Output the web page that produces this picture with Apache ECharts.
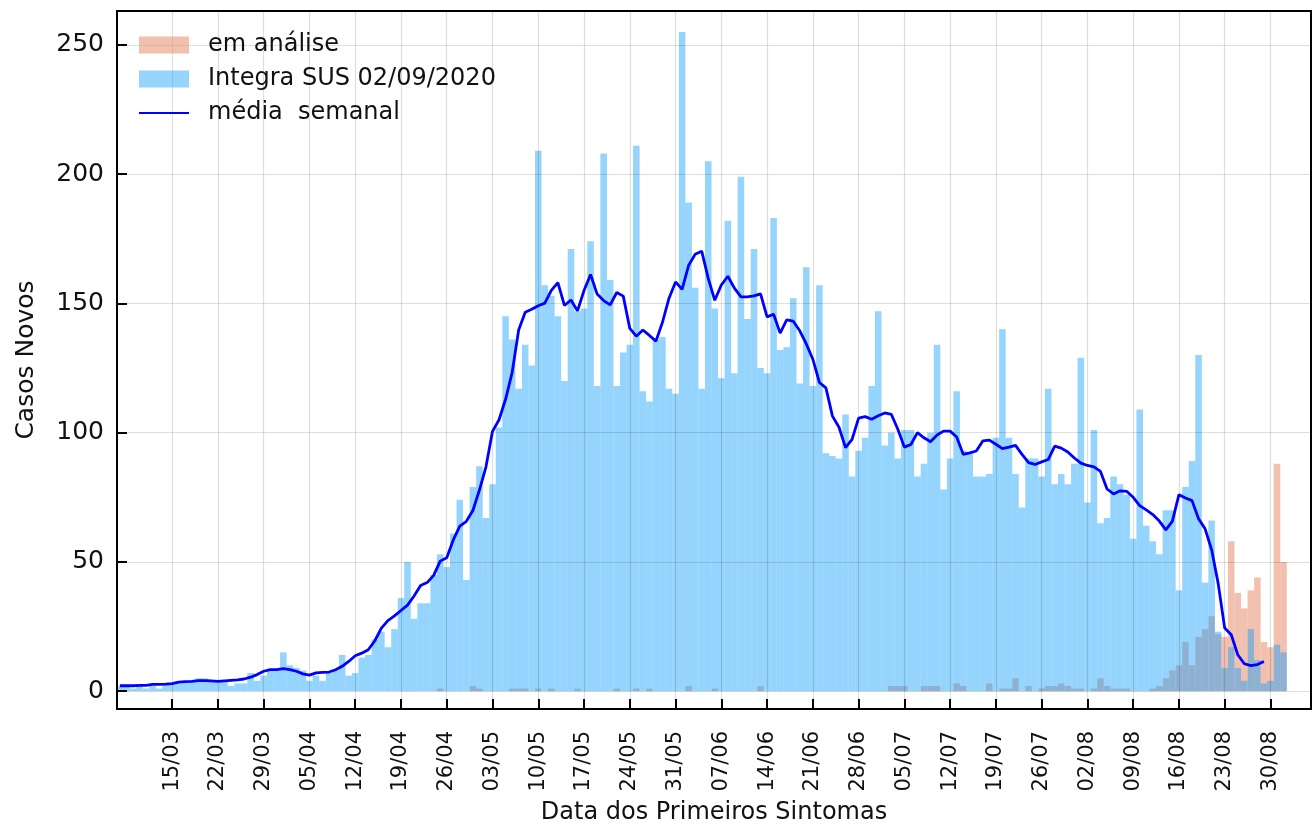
<!DOCTYPE html>
<html>
<head>
<meta charset="utf-8">
<script src="https://cdn.jsdelivr.net/npm/echarts@6/dist/echarts.min.js"></script>
<style>
  html, body { margin: 0; padding: 0; background: #fff; }
  #grafico { width: 1316px; height: 830px; }
</style>
</head>
<body>
<div id="grafico"></div>
<script>
// eixo x: dias contados a partir de 15/03 (o primeiro dia, 07/03, é -8)
const primeiroDia = -8;

const rotulosX = ["15/03", "22/03", "29/03", "05/04", "12/04", "19/04", "26/04",
  "03/05", "10/05", "17/05", "24/05", "31/05", "07/06", "14/06", "21/06", "28/06",
  "05/07", "12/07", "19/07", "26/07", "02/08", "09/08", "16/08", "23/08", "30/08"];
const valoresY = [0, 50, 100, 150, 200, 250];

// casos por dia (07/03 a 01/09)
const integraSUS = [
  2, 2, 1, 2, 1, 2, 1, 3, 3, 3,
  4, 4, 5, 5, 4, 4, 4, 2, 3, 3,
  7, 4, 6, 8, 8, 15, 10, 9, 8, 4,
  6, 4, 7, 8, 14, 6, 7, 13, 14, 20,
  23, 17, 24, 36, 50, 28, 34, 34, 45, 53,
  48, 61, 74, 43, 79, 87, 67, 80, 102, 145,
  136, 117, 134, 126, 209, 157, 153, 145, 120, 171,
  147, 148, 174, 118, 208, 159, 118, 131, 134, 211,
  116, 112, 136, 137, 117, 115, 255, 189, 156, 117,
  205, 148, 121, 182, 123, 199, 144, 171, 125, 123,
  183, 132, 133, 152, 119, 164, 118, 157, 92, 91,
  90, 107, 83, 93, 98, 118, 147, 95, 100, 90,
  101, 101, 83, 88, 100, 134, 78, 90, 116, 93,
  92, 83, 83, 84, 98, 140, 98, 84, 71, 90,
  90, 83, 117, 80, 84, 80, 88, 129, 73, 101,
  65, 67, 83, 80, 76, 59, 109, 64, 58, 53,
  70, 70, 39, 79, 89, 130, 42, 66, 23, 9,
  17, 9, 4, 24, 12, 3, 4, 18, 15
];

const emAnalise = [
  0, 0, 0, 0, 0, 0, 0, 0, 0, 0,
  0, 0, 0, 0, 0, 0, 0, 0, 0, 0,
  0, 0, 0, 0, 0, 0, 0, 0, 0, 0,
  0, 0, 0, 0, 0, 0, 0, 0, 0, 0,
  0, 0, 0, 0, 0, 0, 0, 0, 0, 1,
  0, 0, 0, 0, 2, 1, 0, 0, 0, 0,
  1, 1, 1, 0, 1, 0, 1, 0, 0, 0,
  1, 0, 0, 0, 0, 0, 1, 0, 0, 1,
  0, 1, 0, 0, 0, 0, 0, 2, 0, 0,
  0, 1, 0, 0, 0, 0, 0, 0, 2, 0,
  0, 0, 0, 0, 0, 0, 0, 0, 0, 0,
  0, 0, 0, 0, 0, 0, 0, 0, 2, 2,
  2, 0, 0, 2, 2, 2, 0, 0, 3, 2,
  0, 0, 0, 3, 0, 1, 1, 5, 0, 2,
  0, 1, 2, 2, 3, 2, 1, 1, 0, 1,
  5, 2, 1, 1, 1, 0, 0, 0, 1, 2,
  5, 8, 10, 19, 10, 21, 24, 29, 22, 21,
  58, 38, 32, 39, 44, 19, 17, 88, 50
];

// média semanal (07/03 a 29/08)
const mediaSemanal = [
  2.1, 2.1, 2.1, 2.2, 2.2, 2.6, 2.6, 2.7, 2.9, 3.5,
  3.7, 3.8, 4.1, 4.1, 4.0, 3.8, 4.0, 4.2, 4.4, 4.7,
  5.4, 6.4, 7.7, 8.3, 8.3, 8.7, 8.3, 7.7, 6.7, 6.2,
  7.1, 7.3, 7.4, 8.3, 9.6, 11.5, 13.7, 14.7, 16.0, 19.5,
  24.4, 27.3, 29.1, 31.2, 33.3, 36.8, 40.9, 42.0, 44.8, 50.3,
  51.6, 58.5, 63.8, 65.7, 69.9, 77.8, 86.8, 100.5, 105.0, 112.9,
  123.2, 139.7, 146.6, 147.7, 149.1, 150.1, 155.0, 158.0, 149.2, 151.3,
  147.1, 155.0, 161.2, 153.6, 151.1, 149.4, 154.2, 152.8, 140.3, 137.3,
  139.7, 137.6, 135.4, 142.7, 152.0, 158.3, 155.4, 164.7, 169.0, 170.2,
  159.7, 151.2, 157.1, 160.5, 155.9, 152.5, 152.5, 152.9, 153.7, 144.8,
  145.8, 138.5, 143.6, 143.1, 139.4, 134.3, 128.4, 119.4, 117.3, 106.4,
  102.1, 94.2, 97.4, 105.6, 106.2, 105.2, 106.5, 107.6, 107.1, 101.3,
  94.4, 95.4, 100.0, 98.0, 96.5, 99.1, 100.6, 100.6, 98.3, 91.6,
  92.2, 92.9, 96.8, 97.1, 95.5, 93.8, 94.4, 95.1, 91.6, 88.4,
  87.7, 88.7, 89.6, 94.8, 94.0, 92.5, 90.2, 88.2, 87.3, 86.8,
  85.0, 78.2, 76.3, 77.5, 77.3, 75.0, 71.8, 70.1, 68.3, 65.8,
  62.4, 65.8, 76.0, 74.7, 73.7, 66.7, 62.8, 54.7, 41.7, 24.4,
  21.8, 14.1, 10.6, 9.9, 10.3, 11.5
];

const grafico = echarts.init(document.getElementById("grafico"));

function paraPontos(valores) {
  return valores.map((v, i) => [primeiroDia + i, v]);
}

const posicoesX = rotulosX.map((r, i) => i * 7);

grafico.setOption({
  animation: false,
  textStyle: { fontFamily: "DejaVu Sans" },
  grid: {
    left: 117, right: 5, top: 11, bottom: 117,
    show: true, borderColor: "#000", borderWidth: 2
  },
  legend: {
    orient: "vertical",
    left: 138,
    top: 33,
    padding: 0,
    itemWidth: 50,
    itemHeight: 17,
    itemGap: 10,
    textStyle: { fontSize: 24, color: "#111", padding: [0, 0, 0, 14] },
    data: [
      { name: "em análise", icon: "rect" },
      { name: "Integra SUS 02/09/2020", icon: "rect" },
      { name: "média  semanal", itemStyle: { opacity: 0 } }
    ]
  },
  xAxis: {
    type: "value",
    min: -8.44,
    max: 174.2,
    z: 3,
    name: "Data dos Primeiros Sintomas",
    nameLocation: "middle",
    nameGap: 92,
    nameTextStyle: { fontSize: 24, color: "#111" },
    axisLine: { show: true, onZero: false, lineStyle: { color: "#000", width: 2 } },
    axisTick: {
      show: true, inside: true, length: 10,
      lineStyle: { color: "#000", width: 2 },
      customValues: posicoesX
    },
    axisLabel: {
      customValues: posicoesX,
      rotate: 90,
      margin: 22,
      fontSize: 21,
      color: "#111",
      formatter: (v) => rotulosX[Math.round(v / 7)]
    },
    splitLine: { show: true, lineStyle: { color: "rgba(0,0,0,0.13)", width: 1.2 } }
  },
  yAxis: {
    type: "value",
    min: -6.9,
    max: 263.1,
    z: 3,
    name: "Casos Novos",
    nameLocation: "middle",
    nameGap: 78,
    nameTextStyle: { fontSize: 25, color: "#111" },
    axisLine: { show: true, onZero: false, lineStyle: { color: "#000", width: 2 } },
    axisTick: {
      show: true, inside: true, length: 10,
      lineStyle: { color: "#000", width: 2 },
      customValues: valoresY
    },
    axisLabel: {
      customValues: valoresY,
      margin: 13,
      fontSize: 25,
      color: "#111"
    },
    splitLine: { show: true, lineStyle: { color: "rgba(0,0,0,0.13)", width: 1.2 } }
  },
  series: [
    {
      name: "em análise",
      type: "bar",
      data: paraPontos(emAnalise),
      barWidth: "100%",
      barGap: "-100%",
      itemStyle: { color: "rgba(233,150,122,0.6)", borderWidth: 0 }
    },
    {
      name: "Integra SUS 02/09/2020",
      type: "bar",
      data: paraPontos(integraSUS),
      barWidth: "100%",
      barGap: "-100%",
      itemStyle: { color: "rgba(20,160,250,0.45)", borderWidth: 0 }
    },
    {
      name: "média  semanal",
      type: "line",
      data: paraPontos(mediaSemanal),
      symbol: "none",
      z: 5,
      lineStyle: { color: "#0000ff", width: 2.8 },
      itemStyle: { color: "#0000ff" }
    }
  ]
});

window.addEventListener("resize", () => {
  grafico.resize();
});
</script>
</body>
</html>
